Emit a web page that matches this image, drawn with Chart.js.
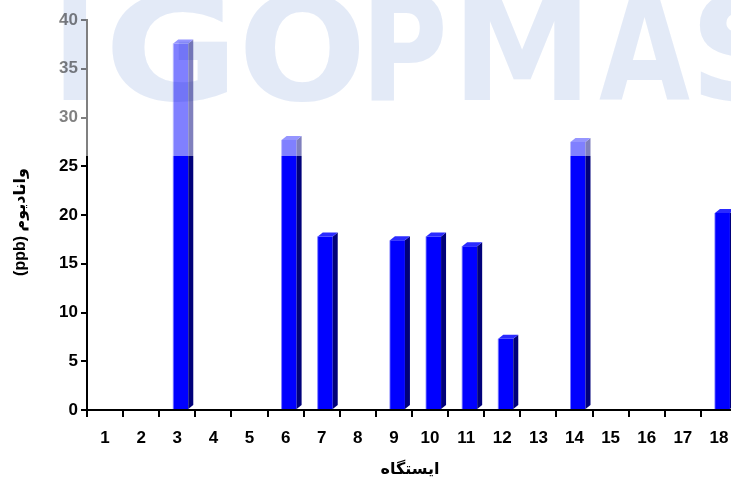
<!DOCTYPE html>
<html>
<head>
<meta charset="utf-8">
<script src="https://cdn.jsdelivr.net/npm/chart.js@4.4.1/dist/chart.umd.min.js"></script>
<style>
  html, body { margin: 0; padding: 0; background: #fff; }
  #wrap { width: 731px; height: 480px; overflow: hidden; position: relative; }
  canvas { display: block; }
</style>
</head>
<body>
<div id="wrap"><canvas id="c" width="745" height="480"></canvas></div>
<script>
// Station numbers along the x axis
const stations = ['1','2','3','4','5','6','7','8','9','10','11','12','13','14','15','16','17','18'];
// Vanadium concentration per station (ppb); null = no bar
const vanadium = [null, null, 37.6, null, null, 27.7, 17.8, null, 17.4, 17.8, 16.8, 7.3, null, 27.5, null, null, null, 20.2];
// Y axis ticks
const yTicks = [0, 5, 10, 15, 20, 25, 30, 35, 40];
const xTitle = 'ایستگاه';
const yTitle = '(ppb) وانادیوم';
const watermark = 'IGOPMAS';

const FONT = "'Liberation Sans', Arial, 'DejaVu Sans', sans-serif";
const FRONT = '#0000ff';
const SIDE = '#00007a';
const TOP = '#2a2aff';
const SHIFT = 3.5;   // bars sit slightly right of category centre
const DX = 5, DY = 4; // 3D depth

const bar3d = {
  id: 'bar3d',
  beforeDatasetsDraw(chart) {
    chart.ctx.save();
    chart.ctx.translate(SHIFT, 0);
  },
  afterDatasetsDraw(chart) {
    const ctx = chart.ctx;
    const meta = chart.getDatasetMeta(0);
    meta.data.forEach((el, i) => {
      if (vanadium[i] == null) return;
      const { x, y, base, width } = el.getProps(['x', 'y', 'base', 'width'], true);
      const l = x - width / 2, r = x + width / 2;
      ctx.fillStyle = SIDE;
      ctx.beginPath();
      ctx.moveTo(r, y);
      ctx.lineTo(r + DX, y - DY);
      ctx.lineTo(r + DX, base - DY);
      ctx.lineTo(r, base);
      ctx.closePath();
      ctx.fill();
      ctx.fillStyle = TOP;
      ctx.beginPath();
      ctx.moveTo(l, y);
      ctx.lineTo(l + DX, y - DY);
      ctx.lineTo(r + DX, y - DY);
      ctx.lineTo(r, y);
      ctx.closePath();
      ctx.fill();
      // light edge on the left of the front face
      ctx.fillStyle = 'rgba(120,120,255,0.8)';
      ctx.fillRect(l - 0.5, y, 1, base - y);
    });
    ctx.restore();
  }
};

const titles = {
  id: 'titles',
  afterDraw(chart) {
    const ctx = chart.ctx;
    ctx.save();
    ctx.fillStyle = '#000';
    ctx.font = "bold 16px " + FONT;
    ctx.textAlign = 'center';
    ctx.textBaseline = 'middle';
    ctx.direction = 'ltr';
    ctx.fillText(xTitle, 410, 470);
    ctx.translate(21, 222);
    ctx.rotate(-Math.PI / 2);
    ctx.fillText(yTitle, 0, 0);
    ctx.restore();
  }
};

// faded band with lettering across the top of the figure
const band = {
  id: 'band',
  afterDraw(chart) {
    const ctx = chart.ctx;
    ctx.save();
    ctx.fillStyle = 'rgba(255,255,255,0.5)';
    ctx.fillRect(0, 0, chart.width, 156);
    ctx.globalCompositeOperation = 'multiply';
    ctx.fillStyle = 'rgb(227,234,247)';
    ctx.font = "bold 150px 'DejaVu Sans', sans-serif";
    ctx.textBaseline = 'alphabetic';
    const boxes = [[63, 86], [112, 228], [245, 359], [371, 443], [464, 580], [599, 690], [699, 790]];
    const baseline = 100, topY = -8;
    watermark.split('').forEach((ch, i) => {
      const m = ctx.measureText(ch);
      const inkL = -m.actualBoundingBoxLeft, inkR = m.actualBoundingBoxRight;
      const sx = (boxes[i][1] - boxes[i][0]) / (inkR - inkL);
      const sy = (baseline - topY) / m.actualBoundingBoxAscent;
      ctx.save();
      ctx.translate(boxes[i][0] - inkL * sx, baseline);
      ctx.scale(sx, sy);
      ctx.fillText(ch, 0, 0);
      ctx.restore();
    });
    ctx.restore();
  }
};

new Chart(document.getElementById('c'), {
  type: 'bar',
  data: {
    labels: stations,
    datasets: [{
      data: vanadium,
      backgroundColor: FRONT,
      borderWidth: 0,
      categoryPercentage: 1,
      barPercentage: 15 / 36.11
    }]
  },
  options: {
    responsive: false,
    animation: false,
    devicePixelRatio: 1,
    layout: { padding: { top: 20, left: 0, right: 8, bottom: 0 } },
    plugins: { legend: { display: false }, tooltip: { enabled: false } },
    scales: {
      x: {
        z: 1,
        grid: { display: true, drawOnChartArea: false, drawTicks: true, tickLength: 7, color: '#000', lineWidth: 2, offset: true },
        border: { display: true, color: '#000', width: 2 },
        ticks: { color: '#000', font: { family: FONT, size: 17, weight: 'bold' }, padding: 11, maxRotation: 0, autoSkip: false },
        afterFit(s) { s.height = 70; }
      },
      y: {
        min: 0, max: 40,
        afterBuildTicks(s) { s.ticks = yTicks.map(v => ({ value: v })); },
        grid: { display: true, drawOnChartArea: false, drawTicks: true, tickLength: 6, color: '#000', lineWidth: 2 },
        border: { display: true, color: '#000', width: 2 },
        ticks: { color: '#000', font: { family: FONT, size: 17, weight: 'bold' }, padding: 3 },
        afterFit(s) { s.width = 87; }
      }
    }
  },
  plugins: [bar3d, titles, band]
});
</script>
</body>
</html>
